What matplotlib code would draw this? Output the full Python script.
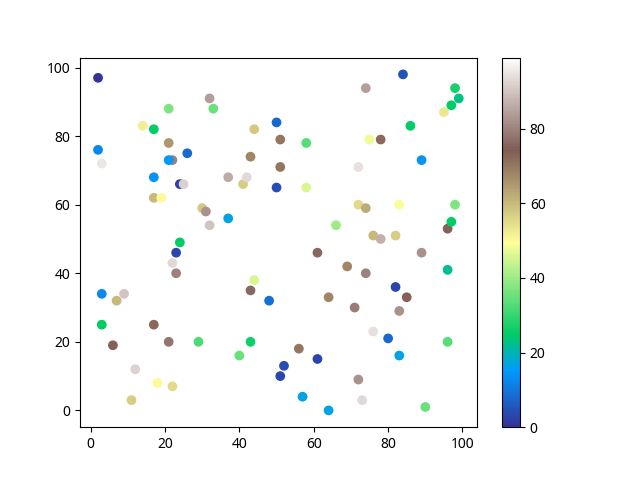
import matplotlib
matplotlib.use("Agg")
import matplotlib.pyplot as plt

plt.rcParams['font.family'] = ['Noto Sans', 'DejaVu Sans']

# point positions
x = [2, 2, 3, 3, 3, 6, 7, 9, 11, 12,
     14, 17, 17, 17, 17, 18, 19, 21, 21, 22,
     21, 21, 22, 22, 23, 23, 24, 24, 25, 26,
     29, 30, 31, 32, 32, 33, 37, 37, 40, 41,
     42, 42, 43, 43, 43, 44, 44, 48, 50, 50,
     51, 51, 51, 52, 56, 58, 58, 57, 61, 61,
     64, 64, 66, 69, 71, 72, 72, 72, 73, 74,
     74, 74, 75, 76, 76, 78, 78, 80, 82, 82,
     83, 83, 83, 84, 85, 86, 89, 89, 90, 95,
     96, 96, 96, 97, 97, 98, 98, 99]
y = [97, 76, 72, 34, 25, 19, 32, 34, 3, 12,
     83, 82, 68, 62, 25, 8, 62, 88, 78, 73,
     73, 20, 7, 43, 46, 40, 49, 66, 66, 75,
     20, 59, 58, 91, 54, 88, 68, 56, 16, 66,
     68, 63, 74, 35, 20, 82, 38, 32, 84, 65,
     10, 79, 71, 13, 18, 78, 65, 4, 46, 15,
     33, 0, 54, 42, 30, 71, 60, 9, 3, 94,
     59, 40, 79, 51, 23, 79, 50, 21, 51, 36,
     60, 29, 16, 98, 33, 83, 73, 46, 1, 87,
     20, 41, 53, 89, 55, 94, 60, 91]
# colour values (terrain colormap)
c = [0, 12, 95, 13, 25, 75, 60, 90, 57, 92,
     52, 25, 14, 60, 72, 50, 50, 37, 65, 80,
     15, 78, 55, 93, 3, 80, 25, 2, 92, 8,
     32, 58, 82, 84, 90, 35, 86, 17, 35, 57,
     93, 99, 68, 76, 26, 58, 46, 9, 8, 4,
     3, 70, 70, 4, 70, 33, 46, 17, 76, 3,
     68, 17, 40, 68, 79, 94, 55, 82, 93, 84,
     62, 80, 48, 60, 94, 72, 87, 8, 57, 3,
     49, 82, 17, 5, 75, 25, 14, 82, 35, 53,
     33, 22, 75, 25, 25, 27, 37, 23]

fig, ax = plt.subplots(figsize=(6.4, 4.8), dpi=100)
sc = ax.scatter(x, y, c=c, cmap='terrain')
fig.colorbar(sc)
fig.savefig("out.png")
